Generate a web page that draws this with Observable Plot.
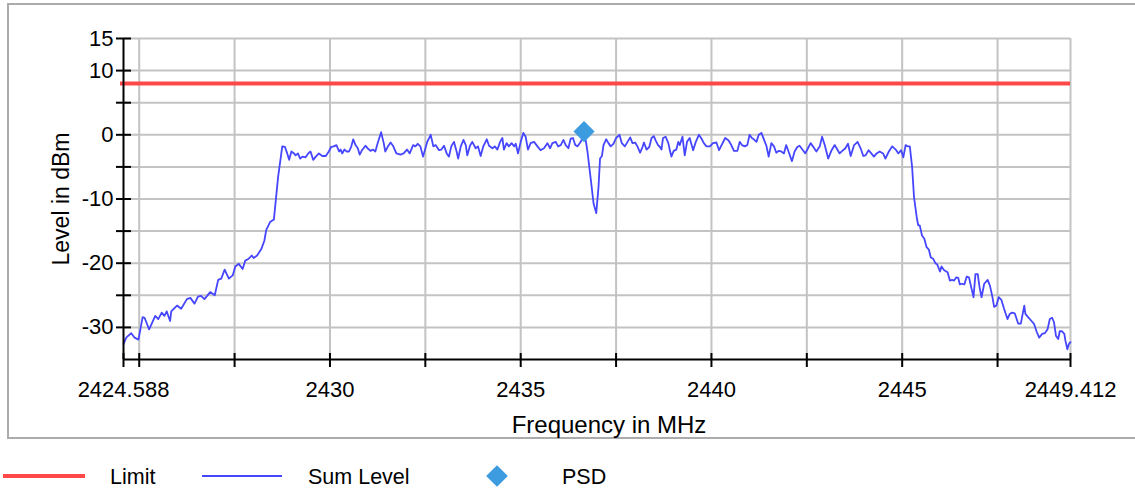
<!DOCTYPE html>
<html>
<head>
<meta charset="utf-8">
<script src="https://cdn.jsdelivr.net/npm/d3@7"></script>
<script src="https://cdn.jsdelivr.net/npm/@observablehq/plot@0.6"></script>
<style>
  html, body { margin: 0; padding: 0; background: #fff; overflow: hidden; width: 1135px; height: 491px; }
  body { font-family: "Liberation Sans", Arial, sans-serif; }
  #frame { position: absolute; left: 7px; top: 3px; width: 1200px; height: 432px; border: 2px solid #ababab; border-right: none; background: #fff; }
  #chart { position: absolute; left: 0; top: 0; }
  #legend { position: absolute; left: 0; top: 450px; }
</style>
</head>
<body>
<div id="frame"><div id="chart"></div></div>
<svg id="legend" width="1135" height="41"></svg>
<script>
// ---- data ----
const frequency = [
  2424.588, 2424.66, 2424.79, 2424.88, 2424.98, 2425.09, 2425.14, 2425.26, 2425.42, 2425.50,
  2425.59, 2425.66, 2425.72, 2425.81, 2425.84, 2425.99, 2426.10, 2426.25, 2426.34, 2426.45,
  2426.54, 2426.62, 2426.71, 2426.86, 2426.98, 2427.07, 2427.15, 2427.24, 2427.35, 2427.45,
  2427.52, 2427.61, 2427.71, 2427.78, 2427.87, 2427.95, 2428.00, 2428.09, 2428.20, 2428.28,
  2428.33, 2428.43, 2428.53, 2428.64,
  2428.75, 2428.82, 2428.88, 2428.93, 2428.99, 2429.06, 2429.10, 2429.16, 2429.22, 2429.28,
  2429.36, 2429.43, 2429.49, 2429.56, 2429.63, 2429.71, 2429.80, 2429.89, 2429.97, 2430.03,
  2430.10, 2430.17, 2430.24, 2430.28, 2430.32, 2430.38, 2430.44, 2430.50, 2430.56, 2430.61,
  2430.67, 2430.73, 2430.78, 2430.84, 2430.93, 2430.99, 2431.06, 2431.13, 2431.19, 2431.25,
  2431.34, 2431.41, 2431.45, 2431.52, 2431.59, 2431.66, 2431.74, 2431.85, 2431.93, 2432.02,
  2432.09, 2432.18, 2432.24, 2432.30, 2432.37, 2432.44,
  2432.55, 2432.64, 2432.71, 2432.77, 2432.86, 2432.92, 2432.99, 2433.06, 2433.12, 2433.18,
  2433.25, 2433.32, 2433.36, 2433.43, 2433.50, 2433.56, 2433.60, 2433.67, 2433.73, 2433.82,
  2433.88, 2433.95, 2434.02, 2434.11, 2434.17, 2434.26, 2434.32, 2434.39, 2434.46, 2434.52,
  2434.56, 2434.63, 2434.69, 2434.76, 2434.83, 2434.87, 2434.93, 2435.00, 2435.07, 2435.13,
  2435.19, 2435.26, 2435.35, 2435.44, 2435.52, 2435.61, 2435.70, 2435.77, 2435.83, 2435.92,
  2435.98, 2436.05, 2436.12, 2436.18, 2436.25,
  2436.31, 2436.37, 2436.43, 2436.49, 2436.56, 2436.63, 2436.69, 2436.75, 2436.84, 2436.91,
  2436.98, 2437.04, 2437.08, 2437.13, 2437.17, 2437.24, 2437.30, 2437.36, 2437.43, 2437.50,
  2437.59, 2437.65, 2437.73, 2437.80, 2437.87, 2437.93, 2438.00, 2438.06, 2438.13, 2438.20,
  2438.23, 2438.30, 2438.37, 2438.43, 2438.49, 2438.54, 2438.60, 2438.65, 2438.69, 2438.73,
  2438.80, 2438.87, 2438.91, 2438.95, 2439.01, 2439.08, 2439.13, 2439.17, 2439.24, 2439.30,
  2439.36, 2439.43, 2439.52, 2439.59, 2439.67, 2439.73, 2439.80, 2439.87, 2439.96, 2440.04,
  2440.13, 2440.20,
  2440.36, 2440.45, 2440.52, 2440.59, 2440.68, 2440.74, 2440.80, 2440.87, 2440.94, 2441.00,
  2441.06, 2441.11, 2441.18, 2441.24, 2441.31, 2441.38, 2441.44, 2441.50, 2441.57, 2441.64,
  2441.70, 2441.76, 2441.83, 2441.90, 2441.96, 2442.02, 2442.11, 2442.18, 2442.25, 2442.31,
  2442.40, 2442.46, 2442.53, 2442.60, 2442.66, 2442.75, 2442.84, 2442.90, 2442.97, 2443.06,
  2443.15, 2443.23, 2443.30, 2443.36, 2443.45, 2443.51, 2443.58, 2443.65, 2443.74, 2443.83,
  2443.91, 2443.98, 2444.04, 2444.12, 2444.19, 2444.26, 2444.33, 2444.41, 2444.50, 2444.56,
  2444.65, 2444.74, 2444.83, 2444.90, 2444.97, 2445.03, 2445.09, 2445.14, 2445.20,
  2445.26, 2445.31, 2445.38, 2445.42, 2445.46, 2445.52, 2445.58, 2445.64, 2445.70, 2445.75,
  2445.81, 2445.87, 2445.92, 2445.99, 2446.03, 2446.10, 2446.19, 2446.25, 2446.31, 2446.36,
  2446.42, 2446.47, 2446.51, 2446.57, 2446.63, 2446.69, 2446.75, 2446.80, 2446.87, 2446.92,
  2446.98, 2447.03, 2447.08, 2447.15, 2447.24, 2447.30, 2447.36, 2447.41, 2447.47, 2447.53,
  2447.60, 2447.67, 2447.76, 2447.82, 2447.88, 2447.95, 2448.04, 2448.11, 2448.20, 2448.23,
  2448.30, 2448.39, 2448.46, 2448.52, 2448.59, 2448.67, 2448.74, 2448.81, 2448.87, 2448.93,
  2448.98, 2449.03, 2449.09, 2449.13, 2449.19, 2449.25, 2449.28, 2449.33, 2449.37, 2449.412
];
const sumLevel = [
  -32.6, -31.6, -30.9, -31.6, -31.9, -28.4, -28.5, -30.3, -28.2, -28.7,
  -27.7, -28.2, -27.5, -29.0, -27.5, -26.6, -27.1, -25.6, -25.4, -26.3,
  -25.2, -25.1, -25.6, -24.5, -25.0, -22.6, -22.4, -21.0, -22.4, -21.9,
  -20.5, -20.1, -20.9, -19.6, -19.3, -18.8, -19.2, -18.8, -17.8, -16.5,
  -14.8, -13.6, -13.2, -6.6,
  -1.8, -1.9, -2.9, -3.9, -2.6, -2.9, -3.2, -2.9, -3.7, -3.4,
  -3.5, -2.9, -2.6, -3.9, -3.4, -2.9, -3.3, -3.3, -2.6, -1.9,
  -1.8, -1.6, -2.6, -2.3, -2.9, -2.3, -2.6, -2.6, -1.8, -0.7,
  -1.6, -2.1, -3.1, -2.4, -1.7, -2.1, -2.5, -2.3, -2.6, -1.3,
  0.4, -1.3, -2.6, -1.8, -1.2, -1.8, -2.9, -3.1, -2.9, -2.3,
  -2.9, -1.6, -1.8, -1.4, -1.8, -3.4,
  -1.1, 0.0, -1.8, -1.6, -2.4, -2.3, -1.7, -2.9, -3.4, -1.8,
  -1.1, -2.6, -3.7, -1.8, -0.8, -1.6, -3.2, -1.7, -1.1, -2.1,
  -1.8, -3.3, -1.8, -0.7, -1.7, -2.1, -1.8, -2.3, -1.1, -0.5,
  -2.3, -1.3, -1.8, -1.3, -1.8, -1.4, -2.9, -1.1, 0.3, -0.3,
  -2.3, -1.3, -1.1, -1.8, -2.4, -2.1, -1.3, -2.1, -1.3, -1.1,
  -1.8, -1.6, -0.8, -1.6, -2.1,
  -0.6, -0.5, -1.6, -1.8, -1.2, -0.5, -0.3, -2.6, -7.1, -10.7,
  -12.2, -8.1, -3.7, -3.3, -1.6, -0.7, -1.3, -1.8, -1.4, -0.5,
  0.0, -1.3, -1.8, -1.1, -0.4, -1.3, -1.2, -1.8, -2.8, -1.8,
  -1.2, -2.3, -1.9, -0.5, -0.2, -0.9, -1.6, -1.9, -2.3, -0.5,
  -0.3, -1.3, -2.4, -3.4, -2.5, -2.3, -1.1, -1.6, -0.3, -3.2,
  -1.1, -0.5, -2.4, -1.1, 0.0, -0.5, -1.3, -1.8, -1.8, -1.3,
  -1.2, -2.4,
  -0.5, -0.9, -1.6, -2.5, -2.5, -1.1, -1.6, -1.8, -1.6, 0.0,
  -0.5, -0.7, -1.1, 0.0, 0.3, -0.8, -1.7, -3.4, -1.3, -1.8,
  -2.8, -2.5, -2.6, -2.9, -1.6, -2.6, -4.1, -2.6, -1.9, -1.7,
  -2.4, -2.9, -2.1, -1.3, -1.8, -2.6, -1.8, -0.3, -1.6, -3.7,
  -2.4, -1.6, -2.3, -2.9, -2.4, -2.1, -1.4, -3.3, -1.6, -1.1,
  -2.1, -3.3, -3.2, -2.4, -2.9, -3.4, -2.9, -2.6, -2.9, -3.7,
  -2.6, -1.8, -2.3, -2.9, -2.4, -3.5, -1.6, -1.8, -1.8,
  -5.0, -9.7, -12.8, -14.1, -14.1, -15.7, -16.2, -17.5, -17.9, -19.1,
  -19.3, -20.0, -20.2, -21.3, -20.5, -21.1, -21.4, -22.7, -22.6, -22.7,
  -22.2, -22.3, -23.3, -23.2, -23.3, -22.1, -22.2, -23.5, -25.3, -21.7,
  -21.7, -23.8, -25.3, -23.2, -22.6, -23.5, -25.1, -26.8, -26.6, -25.3,
  -25.7, -27.1, -28.7, -27.9, -27.7, -27.8, -29.4, -29.4, -26.6, -27.9,
  -28.4, -29.0, -29.5, -30.6, -31.6, -31.0, -30.9, -30.3, -28.7, -28.5,
  -29.2, -31.3, -31.8, -30.6, -30.6, -31.0, -32.1, -33.4, -32.6, -32.3
];
const limitLevel = [8];
const psdFrequency = [2436.66];
const psdLevel = [0.5];

const xDomain = [2424.588, 2449.412];
const yDomain = [-35, 15];
const xTicks = [2424.588, 2425, 2427.5, 2430, 2432.5, 2435, 2437.5, 2440, 2442.5, 2445, 2447.5, 2449.412];
const xTickLabels = ["2424.588", "", "", "2430", "", "2435", "", "2440", "", "2445", "", "2449.412"];
const xGrid = [2425, 2427.5, 2430, 2432.5, 2435, 2437.5, 2440, 2442.5, 2445, 2447.5, 2449.412];
const yTicks = [15, 10, 5, 0, -5, -10, -15, -20, -25, -30];
const yTickLabels = ["15", "10", "", "0", "", "-10", "", "-20", "", "-30"];
const yGrid = [15, 10, 5, 0, -5, -10, -15, -20, -25, -30];
const xTitle = "Frequency in MHz";
const yTitle = "Level in dBm";
const seriesNames = ["Limit", "Sum Level", "PSD"];

// ---- build ----
const sumData = frequency.map((f, i) => ({f, level: sumLevel[i]}));
const psdData = psdFrequency.map((f, i) => ({f, level: psdLevel[i]}));
const xLabelMap = new Map(xTicks.map((t, i) => [t, xTickLabels[i]]));
const yLabelMap = new Map(yTicks.map((t, i) => [t, yTickLabels[i]]));

const COLORS = {limit: "#ff4848", sum: "#4646ff", psd: "#3d9be0", grid: "#c3c3c3"};

const chart = Plot.plot({
  width: 1126,
  height: 432,
  marginLeft: 114,
  marginRight: 65,
  marginTop: 33,
  marginBottom: 78,
  style: {fontFamily: '"Liberation Sans", Arial, sans-serif', fontSize: "22px", color: "#000", background: "transparent", overflow: "visible"},
  x: {domain: xDomain},
  y: {domain: yDomain},
  marks: [
    Plot.gridX(xGrid, {stroke: COLORS.grid, strokeOpacity: 1, strokeWidth: 2}),
    Plot.gridY(yGrid, {stroke: COLORS.grid, strokeOpacity: 1, strokeWidth: 2}),
    Plot.ruleY(limitLevel, {stroke: COLORS.limit, strokeWidth: 4, insetLeft: -3}),
    Plot.line(sumData, {x: "f", y: "level", stroke: COLORS.sum, strokeWidth: 1.8}),
    Plot.dot(psdData, {x: "f", y: "level", symbol: "diamond2", r: 9.5, fill: COLORS.psd, stroke: null}),
    Plot.ruleX([xDomain[0]], {stroke: "#000", strokeWidth: 2}),
    Plot.ruleY([yDomain[0]], {stroke: "#000", strokeWidth: 2}),
    Plot.axisX({ticks: xTicks, tickFormat: d => xLabelMap.get(d), tickSize: 14, insetBottom: 6, tickPadding: 14, strokeWidth: 2, label: null, fill: "#000"}),
    Plot.axisY({ticks: yTicks, tickFormat: d => yLabelMap.get(d), tickSize: 15, insetLeft: 8, tickPadding: 3, strokeWidth: 2, label: null, fill: "#000"}),
    Plot.text([xTitle], {frameAnchor: "bottom", dy: 66, dx: 12, textAnchor: "middle", lineAnchor: "middle", fontSize: 24, text: d => d, fill: "#000"}),
    Plot.text([yTitle], {frameAnchor: "left", dx: -62, rotate: -90, textAnchor: "middle", lineAnchor: "middle", fontSize: 23, text: d => d, fill: "#000"})
  ]
});
document.getElementById("chart").appendChild(chart);

// ---- legend ----
const lg = d3.select("#legend");
const items = [
  {name: seriesNames[0], type: "line", color: COLORS.limit, w: 4, x0: 3, x1: 85, tx: 110},
  {name: seriesNames[1], type: "line", color: COLORS.sum, w: 2, x0: 202, x1: 282, tx: 308},
  {name: seriesNames[2], type: "diamond", color: COLORS.psd, cx: 497, tx: 562}
];
const cy = 26;
for (const it of items) {
  if (it.type === "line") {
    lg.append("line").attr("x1", it.x0).attr("x2", it.x1).attr("y1", cy).attr("y2", cy)
      .attr("stroke", it.color).attr("stroke-width", it.w);
  } else {
    lg.append("path").attr("transform", `translate(${it.cx},${cy})`)
      .attr("d", d3.symbol(d3.symbolDiamond2, 300)()).attr("fill", it.color);
  }
  lg.append("text").attr("x", it.tx).attr("y", cy).attr("dy", "0.35em")
    .attr("font-family", '"Liberation Sans", Arial, sans-serif').attr("font-size", 21.5)
    .attr("fill", "#000").text(it.name);
}
</script>
</body>
</html>
